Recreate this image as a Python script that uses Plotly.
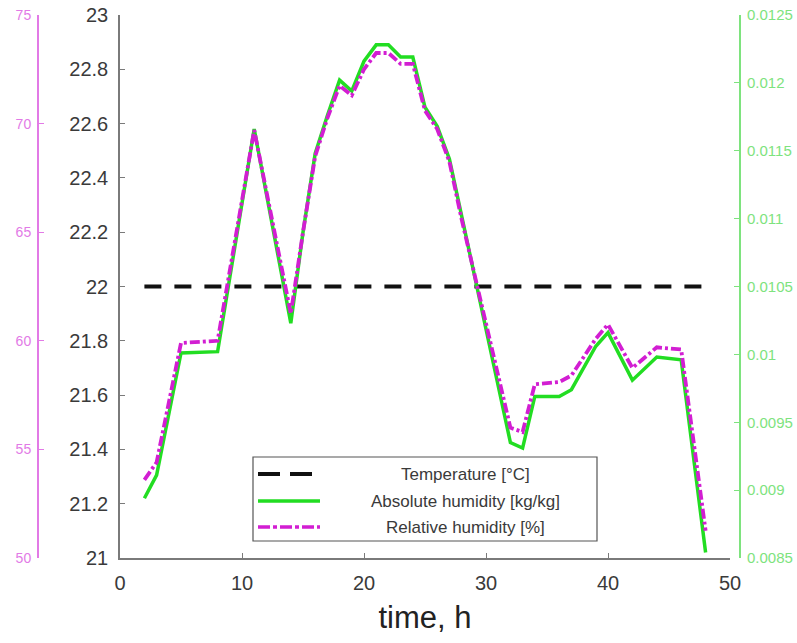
import plotly.graph_objects as go

# ---- data ----
hours = [2, 3, 5, 8, 11, 14, 15, 16, 17, 18, 19, 20, 21, 22, 23, 24, 25, 26, 27, 28,
         32, 33, 34, 36, 37, 39, 40, 42, 44, 46, 48]
abs_humidity = [0.00894, 0.00911, 0.01001, 0.01002, 0.01166, 0.01023, 0.0109, 0.01148,
                0.01176, 0.01202, 0.01194, 0.01216, 0.01228, 0.01228, 0.01219, 0.01219,
                0.01182, 0.01168, 0.01144, 0.01102, 0.00935, 0.00931, 0.00969, 0.00969,
                0.00974, 0.01006, 0.01016, 0.00981, 0.00998, 0.00996, 0.00854]
rel_humidity = [53.6, 54.4, 59.9, 60.0, 69.7, 61.25, 65.0, 68.5, 70.25, 71.75, 71.3, 72.5,
                73.25, 73.25, 72.75, 72.75, 70.6, 69.75, 68.25, 65.6, 56.0, 55.8, 58.0,
                58.1, 58.4, 60.1, 60.75, 58.75, 59.7, 59.6, 51.25]
temp_hours = [2, 48]
temperature = [22, 22]

temp_ticks = [21, 21.2, 21.4, 21.6, 21.8, 22, 22.2, 22.4, 22.6, 22.8, 23]
temp_ticklabels = ["21", "21.2", "21.4", "21.6", "21.8", "22", "22.2", "22.4", "22.6", "22.8", "23"]
rel_ticks = [50, 55, 60, 65, 70, 75]
abs_ticks = [0.0085, 0.009, 0.0095, 0.01, 0.0105, 0.011, 0.0115, 0.012, 0.0125]
abs_ticklabels = ["0.0085", "0.009", "0.0095", "0.01", "0.0105", "0.011", "0.0115", "0.012", "0.0125"]
x_ticks = [0, 10, 20, 30, 40, 50]

legend_labels = ["Temperature [°C]", "Absolute humidity [kg/kg]", "Relative humidity [%]"]

# ---- styles ----
FONT = "Arial, Liberation Sans, sans-serif"
BLACK = "#111111"
GREEN = "#22dd22"
MAGENTA = "#d21ed2"
MAG_AXIS = "#e27ae6"
GRN_AXIS = "#7ee37e"
GRAY = "#7a7a7a"
TXT = "#3a3a3a"
T_DASH = "17px,13px"
R_DASH = "10px,3px,3px,3px"

W, H = 797, 643
ML, MR, MT, MB = 30, 30, 15, 85
PW, PH = W - ML - MR, H - MT - MB


def px(x):
    return (x - ML) / PW


def py(y):
    return (H - MB - y) / PH


fig = go.Figure()
fig.add_trace(go.Scatter(x=temp_hours, y=temperature, mode="lines", yaxis="y",
                         line=dict(color=BLACK, width=4, dash=T_DASH),
                         name=legend_labels[0], showlegend=False))
fig.add_trace(go.Scatter(x=hours, y=abs_humidity, mode="lines", yaxis="y2",
                         line=dict(color=GREEN, width=3.5),
                         name=legend_labels[1], showlegend=False))
fig.add_trace(go.Scatter(x=hours, y=rel_humidity, mode="lines", yaxis="y3",
                         line=dict(color=MAGENTA, width=3.8, dash=R_DASH),
                         name=legend_labels[2], showlegend=False))

fig.update_layout(
    width=W, height=H,
    margin=dict(l=ML, r=MR, t=MT, b=MB, autoexpand=False),
    paper_bgcolor="white", plot_bgcolor="white",
    font=dict(family=FONT, color=TXT),
    xaxis=dict(domain=[px(120), px(730)], range=[0, 50], tickvals=x_ticks,
               showgrid=False, zeroline=False, showline=True, linecolor=GRAY, linewidth=1.5,
               ticks="inside", ticklen=5, tickcolor=GRAY, tickfont=dict(size=20, color=TXT),
               ticklabelstandoff=6,
               title=dict(text="time, h", font=dict(size=31, color="#222222"), standoff=14),
               automargin=False),
    yaxis=dict(range=[21, 23], tickvals=temp_ticks, ticktext=temp_ticklabels,
               showgrid=False, zeroline=False, showline=True, linecolor=GRAY, linewidth=1.5,
               ticks="inside", ticklen=5, tickcolor=GRAY, tickfont=dict(size=20, color=TXT),
               ticklabelstandoff=6, automargin=False),
    yaxis3=dict(range=[50, 75], tickvals=rel_ticks, overlaying="y", anchor="free",
                position=px(38), side="left", showgrid=False, zeroline=False,
                showline=True, linecolor=MAG_AXIS, linewidth=2, ticks="inside", ticklen=5,
                tickcolor=MAG_AXIS, tickfont=dict(size=14, color=MAG_AXIS),
                ticklabelstandoff=3, automargin=False),
    yaxis2=dict(range=[0.0085, 0.0125], tickvals=abs_ticks, ticktext=abs_ticklabels,
                overlaying="y", anchor="free", position=px(740), side="right",
                showgrid=False, zeroline=False, showline=True, linecolor=GRN_AXIS, linewidth=2,
                ticks="inside", ticklen=5, tickcolor=GRN_AXIS,
                tickfont=dict(size=15, color=GRN_AXIS), ticklabelstandoff=3, automargin=False),
)

# ---- custom legend box ----
shapes = [dict(type="rect", xref="paper", yref="paper", x0=px(253), x1=px(597),
               y0=py(541), y1=py(457), line=dict(color="#555555", width=1.2),
               fillcolor="white", layer="above")]
rows = [474, 501, 527]
styles = [dict(color=BLACK, width=4, dash="22px,10px"),
          dict(color=GREEN, width=3.5),
          dict(color=MAGENTA, width=3.5, dash="12px,3px,4px,3px")]
for r, st, lab in zip(rows, styles, legend_labels):
    shapes.append(dict(type="line", xref="paper", yref="paper", x0=px(258), x1=px(320),
                       y0=py(r), y1=py(r), line=st, layer="above"))
    fig.add_annotation(x=px(465), y=py(r), xref="paper", yref="paper", text=lab,
                       showarrow=False, xanchor="center", yanchor="middle",
                       font=dict(size=17, color=TXT, family=FONT))
fig.update_layout(shapes=shapes)

fig.write_html("out.html")
